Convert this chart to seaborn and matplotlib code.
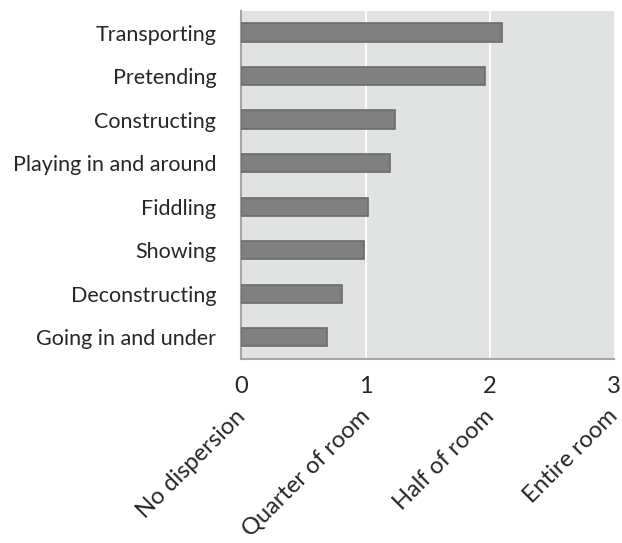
import matplotlib
matplotlib.use("Agg")
import matplotlib.pyplot as plt
import seaborn as sns
import pandas as pd

# Data
activities = ["Transporting", "Pretending", "Constructing", "Playing in and around",
              "Fiddling", "Showing", "Deconstructing", "Going in and under"]
dispersion = [2.10, 1.96, 1.24, 1.20, 1.02, 0.99, 0.81, 0.69]
tick_values = [0, 1, 2, 3]
tick_names = ["No dispersion", "Quarter of room", "Half of room", "Entire room"]

df = pd.DataFrame({"activity": activities, "dispersion": dispersion})

sns.set_style("white")
plt.rcParams["font.family"] = ["Lato", "DejaVu Sans"]

fig = plt.figure(figsize=(6.22, 5.43), dpi=100)
ax = fig.add_axes([0.388, 0.339, 0.599, 0.641])

sns.barplot(data=df, x="dispersion", y="activity", orient="h", color="#808080",
            edgecolor="#6b6b6b", linewidth=1.2, width=0.42, ax=ax, zorder=3)

ax.set_facecolor("#e1e2e2")
ax.set_xlim(0, 3)
ax.set_ylim(7.5, -0.5)
ax.set_xticks(tick_values)
ax.set_xticklabels([str(v) for v in tick_values], fontsize=17)
ax.tick_params(axis="y", labelsize=15.5, length=0, pad=18)
ax.tick_params(axis="x", direction="out", length=6, width=1.5, color="#a6a6a6", pad=6)
for v in tick_values[1:3]:
    ax.axvline(v, color="white", lw=1.3, zorder=1)
ax.set_xlabel("")
ax.set_ylabel("")
for s in ["top", "right"]:
    ax.spines[s].set_visible(False)
for s in ["left", "bottom"]:
    ax.spines[s].set_color("#a6a6a6")
    ax.spines[s].set_linewidth(1.5)

# rotated category names under the numeric ticks
for v, name in zip(tick_values, tick_names):
    ax.text(v + 0.005, -0.155, name, transform=ax.get_xaxis_transform(), rotation=45,
            rotation_mode="anchor", ha="right", va="center", fontsize=17)

fig.savefig("out.png", dpi=100)
